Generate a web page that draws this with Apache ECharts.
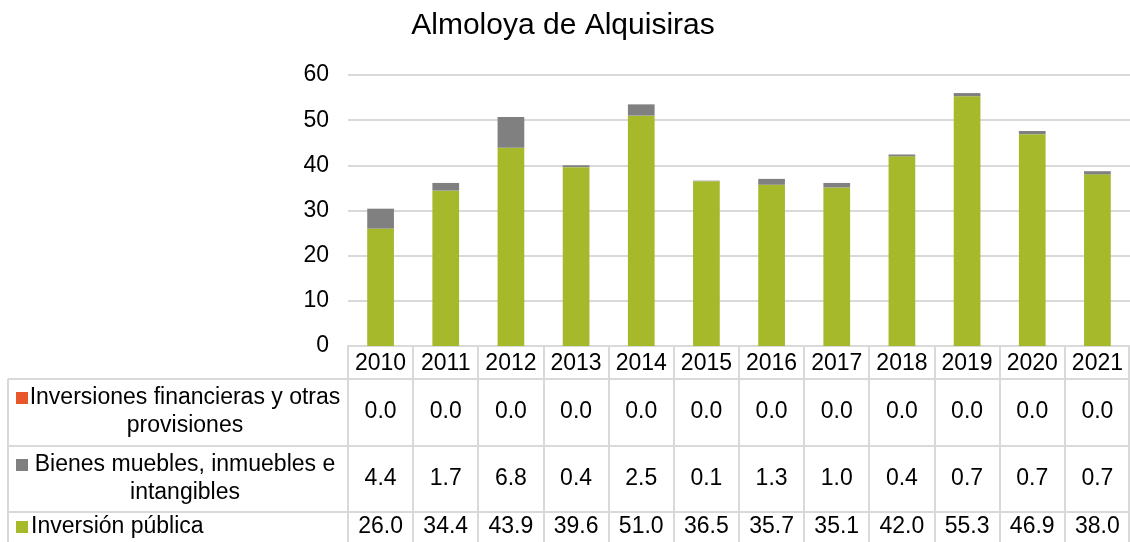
<!DOCTYPE html>
<html>
<head>
<meta charset="utf-8">
<script src="https://cdn.jsdelivr.net/npm/echarts@6/dist/echarts.min.js"></script>
<style>
  html, body { margin: 0; padding: 0; background: #fff; }
  #main { width: 1130px; height: 542px; }
</style>
</head>
<body>
<div id="main"></div>
<script>
var years = ['2010', '2011', '2012', '2013', '2014', '2015', '2016', '2017', '2018', '2019', '2020', '2021'];
var financieras = [0, 0, 0, 0, 0, 0, 0, 0, 0, 0, 0, 0];
var bienes = [4.4, 1.7, 6.8, 0.4, 2.5, 0.1, 1.3, 1.0, 0.4, 0.7, 0.7, 0.7];
var inversion = [26.0, 34.4, 43.9, 39.6, 51.0, 36.5, 35.7, 35.1, 42.0, 55.3, 46.9, 38.0];
var yTicks = [0, 10, 20, 30, 40, 50, 60];

var FONT = 'Liberation Sans, Arial, sans-serif';
var FS = 23;
var gridLeft = 348, gridRight = 1130, gridTop = 75, gridBottomY = 346;
var tableLeft = 8;
var rowLines = [379, 446, 512, 542];
var lineColor = '#d9d9d9';

var myChart = echarts.init(document.getElementById('main'));

var option = {
  animation: false,
  title: {
    text: 'Almoloya de Alquisiras',
    left: 558,
    top: 6,
    textAlign: 'center',
    textStyle: { fontFamily: FONT, fontSize: 30, fontWeight: 'normal', color: '#000' }
  },
  grid: { left: gridLeft, right: 1130 - gridRight, top: gridTop, bottom: 542 - gridBottomY },
  xAxis: {
    type: 'category',
    data: years,
    axisLine: { show: true, lineStyle: { color: lineColor, width: 2 } },
    axisTick: { show: false },
    axisLabel: { interval: 0, margin: 6, fontFamily: FONT, fontSize: FS, color: '#000' }
  },
  yAxis: {
    type: 'value',
    min: yTicks[0],
    max: yTicks[yTicks.length - 1],
    interval: 10,
    axisLine: { show: false },
    axisTick: { show: false },
    axisLabel: { margin: 19, fontFamily: FONT, fontSize: FS, color: '#000' },
    splitLine: { lineStyle: { color: lineColor, width: 2 } }
  },
  series: [
    {
      name: 'Inversión pública', type: 'bar', stack: 'a', barWidth: '41%',
      itemStyle: { color: '#a5b92a' }, data: inversion
    },
    {
      name: 'Bienes muebles, inmuebles e intangibles', type: 'bar', stack: 'a',
      itemStyle: { color: '#808080' }, data: bienes
    },
    {
      name: 'Inversiones financieras y otras provisiones', type: 'bar', stack: 'a',
      itemStyle: { color: '#e8572a' }, data: financieras
    }
  ]
};
myChart.setOption(option);

// data table under the axis
var g = [];
var band = (gridRight - gridLeft) / years.length;
function line(x1, y1, x2, y2) {
  g.push({ type: 'line', shape: { x1: x1, y1: y1, x2: x2, y2: y2 },
    style: { stroke: lineColor, lineWidth: 2 }, silent: true });
}
function txt(s, x, y, align) {
  g.push({ type: 'text', style: { text: s, x: x, y: y, align: align, verticalAlign: 'middle',
    font: FS + 'px ' + FONT, fill: '#000' }, silent: true });
}
for (var r = 0; r < 3; r++) line(tableLeft, rowLines[r], gridRight, rowLines[r]);
line(tableLeft, rowLines[0], tableLeft, 542);
for (var c = 0; c <= years.length; c++) {
  var xx = Math.round(gridLeft + c * band);
  if (c === years.length) xx = gridRight - 1;
  line(xx, gridBottomY, xx, 542);
}

var rows = [
  { label: ['Inversiones financieras y otras', 'provisiones'], color: '#e8572a', values: financieras },
  { label: ['Bienes muebles, inmuebles e', 'intangibles'], color: '#808080', values: bienes },
  { label: ['Inversión pública'], color: '#a5b92a', values: inversion }
];
var rowCenters = [412, 479, 527];
rows.forEach(function (row, i) {
  var cy = rowCenters[i];
  var firstY = row.label.length > 1 ? cy - 14 : cy;
  g.push({ type: 'rect', shape: { x: 16, y: firstY - 6, width: 12, height: 12 },
    style: { fill: row.color }, silent: true });
  if (row.label.length > 1) {
    txt(row.label[0], 185, firstY, 'center');
    txt(row.label[1], 185, cy + 14, 'center');
  } else {
    txt(row.label[0], 31, cy, 'left');
  }
  row.values.forEach(function (v, j) {
    txt(v.toFixed(1), myChart.convertToPixel({ xAxisIndex: 0 }, j), cy, 'center');
  });
});
myChart.setOption({ graphic: g });
</script>
</body>
</html>
